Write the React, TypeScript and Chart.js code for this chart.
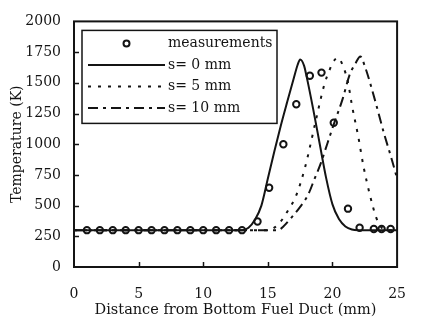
import React, { useEffect, useRef } from "react";
import { Chart, registerables } from "chart.js";

Chart.register(...registerables);

// ---- data ----
const measX = [1, 2, 3, 4, 5, 6, 7, 8, 9, 10, 11, 12, 13, 14.2, 15.1, 16.2, 17.2, 18.25, 19.15, 20.1, 21.2, 22.1, 23.2, 23.8, 24.5];
const measY = [300, 300, 300, 300, 300, 300, 300, 300, 300, 300, 300, 300, 300, 370, 645, 1000, 1325, 1557, 1583, 1175, 475, 320, 310, 310, 310];

const s0X = [0, 13.0, 13.5, 14.0, 14.5, 15.0, 15.5, 16.0, 16.5, 17.0, 17.3, 17.5, 17.8, 18.0, 18.5, 19.0, 19.5, 20.0, 20.5, 21.0, 21.5, 22.0, 25];
const s0Y = [300, 300, 320, 385, 500, 720, 940, 1150, 1345, 1535, 1645, 1690, 1640, 1550, 1290, 1010, 730, 510, 390, 330, 305, 300, 300];

const s5X = [0, 15.0, 15.5, 15.9, 16.5, 17.2, 17.9, 18.7, 19.35, 19.8, 20.2, 20.45, 20.8, 21.2, 21.5, 22.0, 22.4, 22.9, 23.4, 23.8, 24.2, 25];
const s5Y = [300, 300, 320, 358, 450, 585, 820, 1188, 1478, 1612, 1690, 1702, 1640, 1504, 1320, 1059, 820, 585, 398, 320, 300, 300];

const s10X = [0, 15.8, 16.2, 16.7, 17.5, 18.1, 18.6, 19.1, 19.6, 20.1, 20.8, 21.3, 21.8, 22.15, 22.5, 23.25, 24.0, 24.6, 25];
const s10Y = [300, 300, 330, 387, 490, 585, 714, 846, 1004, 1162, 1373, 1557, 1662, 1715, 1636, 1373, 1083, 872, 720];

const seriesLabels = ["measurements", "s= 0 mm", "s= 5 mm", "s= 10 mm"];
const xTickValues = [0, 5, 10, 15, 20, 25];
const yTickValues = [0, 250, 500, 750, 1000, 1250, 1500, 1750, 2000];
const xTitle = "Distance from Bottom Fuel Duct (mm)";
const yTitle = "Temperature (K)";

const FONT = "'DejaVu Serif', 'Liberation Serif', serif";
const INK = "#141414";

const pts = (xs: number[], ys: number[]) => xs.map((x, i) => ({ x, y: ys[i] }));

const dashes: number[][] = [[], [], [3, 7], [10, 5, 3, 5]];

const framePlugin = {
  id: "frameAndLegend",
  afterDraw(chart: any) {
    const { ctx, chartArea: a, scales } = chart;
    ctx.save();
    ctx.strokeStyle = INK;
    ctx.lineWidth = 2;
    ctx.setLineDash([]);
    ctx.strokeRect(a.left, a.top, a.right - a.left, a.bottom - a.top);

    // inward ticks
    ctx.lineWidth = 1.5;
    const ys = scales.y;
    ys.ticks.forEach((t: any) => {
      if (t.value <= ys.min || t.value >= ys.max) return;
      const py = Math.round(ys.getPixelForValue(t.value)) + 0.5;
      ctx.beginPath();
      ctx.moveTo(a.left, py);
      ctx.lineTo(a.left + 5, py);
      ctx.stroke();
    });
    const xs = scales.x;
    xs.ticks.forEach((t: any) => {
      if (t.value <= xs.min || t.value >= xs.max) return;
      const px = Math.round(xs.getPixelForValue(t.value)) + 0.5;
      ctx.beginPath();
      ctx.moveTo(px, a.bottom);
      ctx.lineTo(px, a.bottom - 5);
      ctx.stroke();
    });

    // legend box
    const bx = a.left + 8;
    const by = a.top + 9;
    const bw = 195;
    const bh = 93;
    ctx.fillStyle = "#ffffff";
    ctx.fillRect(bx, by, bw, bh);
    ctx.lineWidth = 1.5;
    ctx.strokeRect(bx, by, bw, bh);

    ctx.font = `14px ${FONT}`;
    ctx.textBaseline = "middle";
    ctx.textAlign = "left";
    ctx.fillStyle = INK;
    chart.data.datasets.forEach((ds: any, i: number) => {
      const ry = by + 13 + i * 21.5;
      const x0 = bx + 6;
      const x1 = bx + 83;
      if (i === 0) {
        ctx.setLineDash([]);
        ctx.lineWidth = 2;
        ctx.beginPath();
        ctx.arc((x0 + x1) / 2, ry, 3, 0, Math.PI * 2);
        ctx.stroke();
      } else {
        ctx.setLineDash(dashes[i]);
        ctx.lineWidth = 2;
        ctx.beginPath();
        ctx.moveTo(x0, ry);
        ctx.lineTo(x1, ry);
        ctx.stroke();
      }
      ctx.setLineDash([]);
      ctx.fillText(ds.label, x1 + 3, ry);
    });
    ctx.restore();
  },
};

export default function App() {
  const ref = useRef<HTMLCanvasElement | null>(null);

  useEffect(() => {
    if (!ref.current) return;
    const lineDs = (label: string, xs: number[], ys: number[], dash: number[]) => ({
      label,
      data: pts(xs, ys),
      showLine: true,
      borderColor: INK,
      borderWidth: 2,
      borderDash: dash,
      pointRadius: 0,
      fill: false,
      cubicInterpolationMode: "monotone" as const,
    });

    const chart = new Chart(ref.current, {
      type: "scatter",
      data: {
        datasets: [
          {
            label: seriesLabels[0],
            data: pts(measX, measY),
            showLine: false,
            pointStyle: "circle",
            pointRadius: 3.2,
            pointBorderWidth: 2,
            pointBorderColor: INK,
            pointBackgroundColor: "rgba(255,255,255,0)",
          },
          lineDs(seriesLabels[1], s0X, s0Y, dashes[1]),
          lineDs(seriesLabels[2], s5X, s5Y, dashes[2]),
          lineDs(seriesLabels[3], s10X, s10Y, dashes[3]),
        ],
      },
      options: {
        responsive: false,
        animation: false,
        layout: { padding: { top: 14, right: 9, left: 0, bottom: 0 } },
        plugins: {
          legend: { display: false },
          tooltip: { enabled: false },
        },
        scales: {
          x: {
            type: "linear",
            min: 0,
            max: 25,
            afterBuildTicks: (s: any) => {
              s.ticks = xTickValues.map((v) => ({ value: v }));
            },
            afterFit: (s: any) => {
              s.height = 60;
            },
            grid: { display: false, drawTicks: false, tickLength: 0 },
            border: { display: false },
            ticks: {
              color: INK,
              padding: 19,
              maxRotation: 0,
              callback: (v: any) => String(v),
              font: { family: FONT, size: 14 },
            },
            title: {
              display: true,
              text: xTitle,
              color: INK,
              padding: { top: 0, bottom: 8 },
              font: { family: FONT, size: 14.5 },
            },
          },
          y: {
            type: "linear",
            min: 0,
            max: 2000,
            afterBuildTicks: (s: any) => {
              s.ticks = yTickValues.map((v) => ({ value: v }));
            },
            afterFit: (s: any) => {
              s.width = 74;
            },
            grid: { display: false, drawTicks: false, tickLength: 0 },
            border: { display: false },
            ticks: {
              color: INK,
              padding: 13,
              callback: (v: any) => String(v),
              font: { family: FONT, size: 14 },
            },
            title: {
              display: true,
              text: yTitle,
              color: INK,
              padding: { top: 9, bottom: 0 },
              font: { family: FONT, size: 14 },
            },
          },
        },
      },
      plugins: [framePlugin],
    });
    return () => chart.destroy();
  }, []);

  return (
    <div style={{ position: "absolute", left: 0, top: 0, width: 425, height: 327, background: "#fff" }}>
      <canvas ref={ref} width={425} height={327} style={{ display: "block" }} />
    </div>
  );
}
